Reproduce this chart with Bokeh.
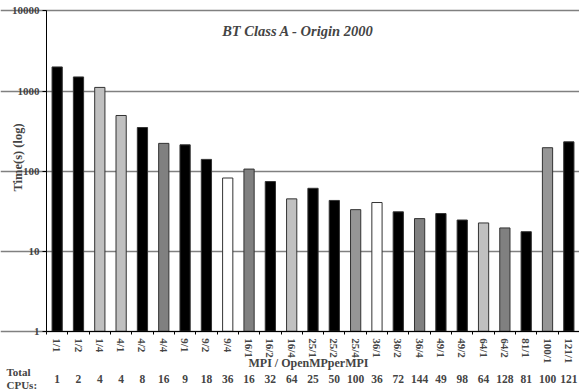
import math
from bokeh.plotting import figure
from bokeh.models import (Range1d, LinearAxis, LogAxis, FixedTicker, Label, ColumnDataSource,
                          PrintfTickFormatter, Grid)
from bokeh.embed import file_html
from bokeh.resources import INLINE

categories = ["1/1", "1/2", "1/4", "4/1", "4/2", "4/4", "9/1", "9/2", "9/4", "16/1", "16/2", "16/4",
              "25/1", "25/2", "25/4", "36/1", "36/2", "36/4", "49/1", "49/2", "64/1", "64/2",
              "81/1", "100/1", "121/1"]
times = [2000, 1500, 1110, 495, 350, 222, 213, 140, 82, 106, 74, 45,
         61, 43, 33, 40.5, 31, 25.5, 29.5, 24.5, 22.5, 19.5,
         17.5, 196, 232]
total_cpus = [1, 2, 4, 4, 8, 16, 9, 18, 36, 16, 32, 64,
              25, 50, 100, 36, 72, 144, 49, 98, 64, 128,
              81, 100, 121]
y_ticks = [1, 10, 100, 1000, 10000]

BLACK, LIGHT, MED, DARK, WHITE = "#000000", "#c0c0c0", "#969696", "#808080", "#ffffff"
bar_colors = [BLACK, BLACK, LIGHT, LIGHT, BLACK, DARK, BLACK, BLACK, WHITE, DARK, BLACK, LIGHT,
              BLACK, BLACK, MED, WHITE, BLACK, DARK, BLACK, BLACK, LIGHT, DARK,
              BLACK, MED, BLACK]

FONT = "Liberation Serif"
N = len(categories)
centers = [i + 0.5 for i in range(N)]
bounds = list(range(N + 1))

W, H = 579, 391
# frame spans the whole canvas; plot area (data 0..N, 1..10000) sits inside it
X_LEFT = -2.158
Y_BOTTOM, Y_TOP = 10 ** -0.753, 10 ** 4.131
CPU_ROW = 10 ** -0.516

src = ColumnDataSource(dict(x=centers, cat=categories, t=times, color=bar_colors))

p = figure(x_range=Range1d(X_LEFT, N), y_range=Range1d(Y_BOTTOM, Y_TOP), y_axis_type="log",
           width=W, height=H, output_backend="svg", toolbar_location=None,
           x_axis_location=None, y_axis_location=None,
           min_border_left=0, min_border_right=0, min_border_top=0, min_border_bottom=0)
p.outline_line_color = None
p.background_fill_color = "white"
p.border_fill_color = "white"

p.vbar(x="x", top="t", bottom=1, width=0.48, fill_color="color",
       line_color="#333333", line_width=1, source=src)

# y axis
ya = LogAxis(ticker=FixedTicker(ticks=y_ticks, minor_ticks=[]), fixed_location=0,
             bounds=(1, 10000))
ya.formatter = PrintfTickFormatter(format="%d")
ya.major_tick_out = 4
ya.major_tick_in = 0
ya.minor_tick_line_color = None
ya.axis_line_color = "black"
ya.major_label_text_font = FONT
ya.major_label_text_font_style = "bold"
ya.major_label_text_font_size = "11px"
ya.major_label_standoff = 3
p.add_layout(ya, "left")

p.ygrid.visible = False
p.xgrid.visible = False
grid = Grid(dimension=1, ticker=FixedTicker(ticks=y_ticks), bounds=(0, N),
            grid_line_color="#808080", grid_line_width=1.5)
p.add_layout(grid)

# category axis (boundary ticks as minor ticks)
ca = LinearAxis(ticker=FixedTicker(ticks=centers, minor_ticks=bounds), fixed_location=1,
                bounds=(0, N))
ca.major_label_overrides = {c: lab for c, lab in zip(centers, categories)}
ca.axis_line_color = "black"
ca.major_tick_line_color = None
ca.minor_tick_line_color = "black"
ca.minor_tick_out = 3
ca.minor_tick_in = 0
ca.major_tick_out = 0
ca.major_tick_in = 0
ca.major_label_orientation = "vertical"
ca.major_label_text_font = FONT
ca.major_label_text_font_style = "bold"
ca.major_label_text_font_size = "11px"
ca.major_label_standoff = 4
p.add_layout(ca, "below")

# total CPUs axis
cpu = LinearAxis(ticker=FixedTicker(ticks=centers, minor_ticks=[]), fixed_location=CPU_ROW,
                 bounds=(0, N))
cpu.major_label_overrides = {c: str(n) for c, n in zip(centers, total_cpus)}
cpu.axis_line_color = None
cpu.major_tick_line_color = None
cpu.minor_tick_line_color = None
cpu.major_tick_out = 0
cpu.major_tick_in = 0
cpu.major_label_text_font = FONT
cpu.major_label_text_font_style = "bold"
cpu.major_label_text_font_size = "11.5px"
cpu.major_label_standoff = 2
p.add_layout(cpu, "below")

p.add_layout(Label(x=11.8, y=5700, text="BT Class A - Origin 2000", text_font=FONT,
                   text_font_style="bold italic", text_font_size="14.5px",
                   text_align="center", text_baseline="middle"))
p.add_layout(Label(x=308, y=29, x_units="screen", y_units="screen", text="MPI / OpenMPperMPI",
                   text_font=FONT, text_font_style="bold", text_font_size="12px",
                   text_align="center", text_baseline="middle"))
p.add_layout(Label(x=17, y=234, x_units="screen", y_units="screen", text="Time(s) (log)",
                   angle=math.pi / 2, text_font=FONT, text_font_style="bold",
                   text_font_size="12.5px", text_align="center", text_baseline="middle"))
p.add_layout(Label(x=6, y=20, x_units="screen", y_units="screen", text="Total",
                   text_font=FONT, text_font_style="bold", text_font_size="11px",
                   text_align="left", text_baseline="middle"))
p.add_layout(Label(x=6, y=7, x_units="screen", y_units="screen", text="CPUs:",
                   text_font=FONT, text_font_style="bold", text_font_size="11px",
                   text_align="left", text_baseline="middle"))

open("out.html", "w").write(file_html(p, INLINE))
